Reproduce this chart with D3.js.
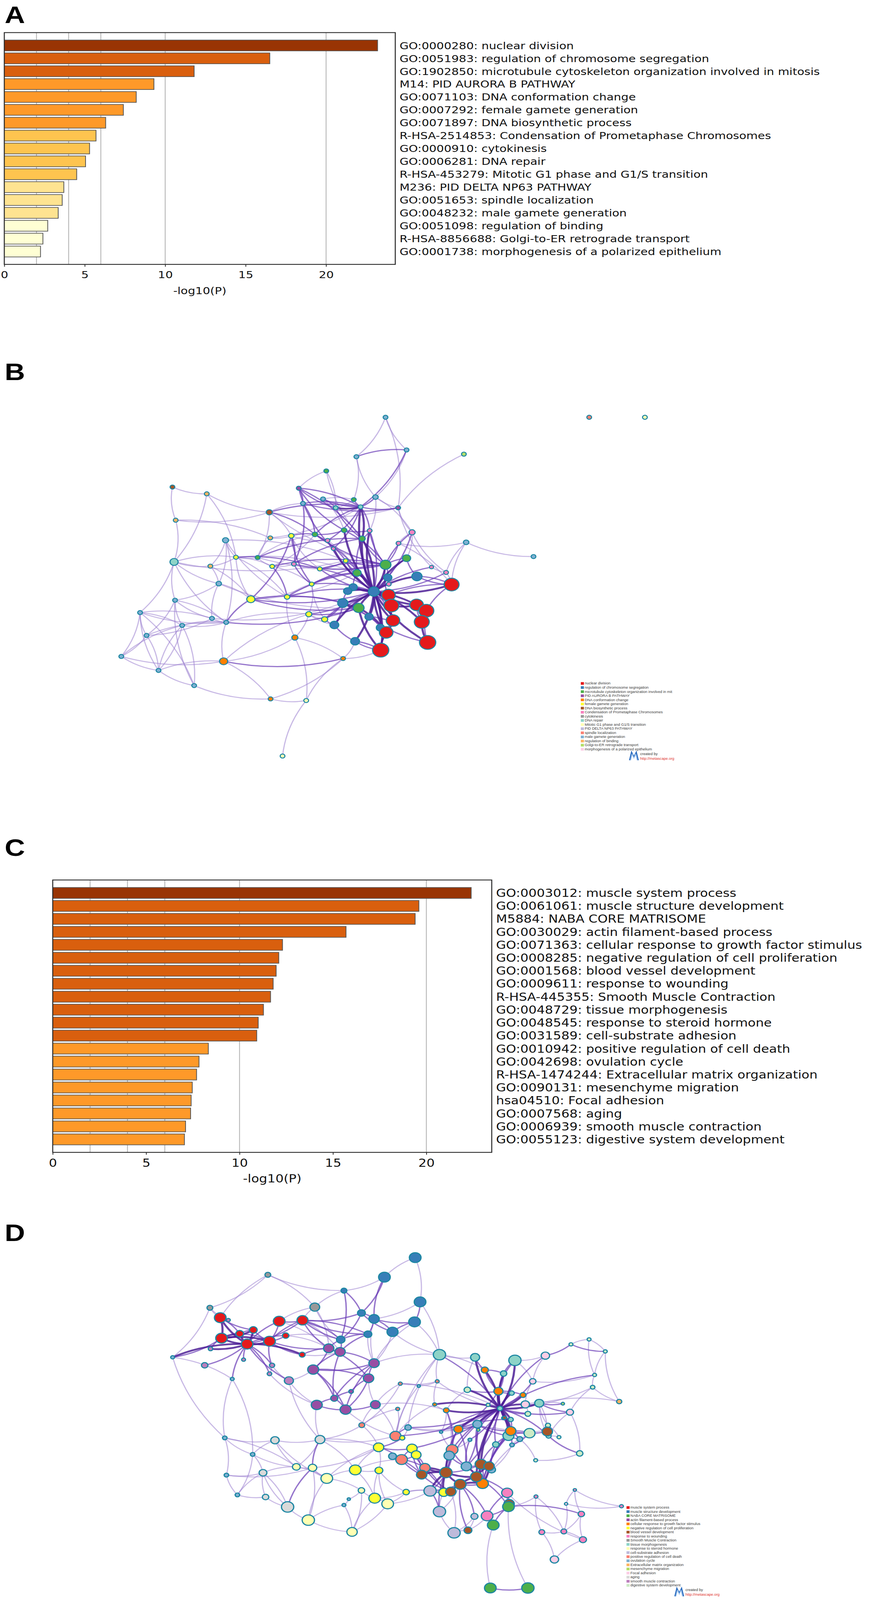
<!doctype html>
<html>
<head>
<meta charset="utf-8">
<script src="https://cdn.jsdelivr.net/npm/d3@7"></script>
<title>Enrichment bars and networks</title>
<style>
  html, body { margin: 0; background: #fff; overflow: hidden; }
  svg { display: block; }
</style>
</head>
<body>
<svg id="fig"></svg>
<script>
// ---------- panel A: bar chart ----------
const termsA = [
  "GO:0000280: nuclear division",
  "GO:0051983: regulation of chromosome segregation",
  "GO:1902850: microtubule cytoskeleton organization involved in mitosis",
  "M14: PID AURORA B PATHWAY",
  "GO:0071103: DNA conformation change",
  "GO:0007292: female gamete generation",
  "GO:0071897: DNA biosynthetic process",
  "R-HSA-2514853: Condensation of Prometaphase Chromosomes",
  "GO:0000910: cytokinesis",
  "GO:0006281: DNA repair",
  "R-HSA-453279: Mitotic G1 phase and G1/S transition",
  "M236: PID DELTA NP63 PATHWAY",
  "GO:0051653: spindle localization",
  "GO:0048232: male gamete generation",
  "GO:0051098: regulation of binding",
  "R-HSA-8856688: Golgi-to-ER retrograde transport",
  "GO:0001738: morphogenesis of a polarized epithelium"
];
const valuesA = [23.2, 16.5, 11.8, 9.3, 8.2, 7.4, 6.3, 5.7, 5.3, 5.05, 4.5, 3.7, 3.6, 3.35, 2.7, 2.4, 2.25];

// ---------- panel C: bar chart ----------
const termsC = [
  "GO:0003012: muscle system process",
  "GO:0061061: muscle structure development",
  "M5884: NABA CORE MATRISOME",
  "GO:0030029: actin filament-based process",
  "GO:0071363: cellular response to growth factor stimulus",
  "GO:0008285: negative regulation of cell proliferation",
  "GO:0001568: blood vessel development",
  "GO:0009611: response to wounding",
  "R-HSA-445355: Smooth Muscle Contraction",
  "GO:0048729: tissue morphogenesis",
  "GO:0048545: response to steroid hormone",
  "GO:0031589: cell-substrate adhesion",
  "GO:0010942: positive regulation of cell death",
  "GO:0042698: ovulation cycle",
  "R-HSA-1474244: Extracellular matrix organization",
  "GO:0090131: mesenchyme migration",
  "hsa04510: Focal adhesion",
  "GO:0007568: aging",
  "GO:0006939: smooth muscle contraction",
  "GO:0055123: digestive system development"
];
const valuesC = [22.4, 19.6, 19.4, 15.7, 12.3, 12.1, 11.96, 11.8, 11.66, 11.28, 11.0, 10.92, 8.33, 7.83, 7.7, 7.47, 7.41, 7.38, 7.11, 7.05];

const tickValues = [0, 5, 10, 15, 20];
const gridValues = [2, 4, 6, 10, 20];
const colorCuts = [3, 4, 6, 10, 20];

// ---------- legends ----------
const legendB = [
  "nuclear division", "regulation of chromosome segregation",
  "microtubule cytoskeleton organization involved in mit", "PID AURORA B PATHWAY",
  "DNA conformation change", "female gamete generation", "DNA biosynthetic process",
  "Condensation of Prometaphase Chromosomes", "cytokinesis", "DNA repair",
  "Mitotic G1 phase and G1/S transition", "PID DELTA NP63 PATHWAY", "spindle localization",
  "male gamete generation", "regulation of binding", "Golgi-to-ER retrograde transport",
  "morphogenesis of a polarized epithelium"
];
const legendD = [
  "muscle system process", "muscle structure development", "NABA CORE MATRISOME",
  "actin filament-based process", "cellular response to growth factor stimulus",
  "negative regulation of cell proliferation", "blood vessel development", "response to wounding",
  "Smooth Muscle Contraction", "tissue morphogenesis", "response to steroid hormone",
  "cell-substrate adhesion", "positive regulation of cell death", "ovulation cycle",
  "Extracellular matrix organization", "mesenchyme migration", "Focal adhesion", "aging",
  "smooth muscle contraction", "digestive system development"
];

// ---------- panel B network: [id, x, y, r, cluster] in layout units ----------
const nodesB = [
  [1,889,78,7,13],[2,1518,78,7,12],[3,1690,78,7,10],[4,954,218,7,13],[5,799,247,7,13],
  [6,1131,236,7,15],[7,706,308,7,2],[8,231,377,7,6],[9,337,406,7,14],[10,621,382,7,3],
  [11,696,428,7,13],[12,634,447,7,13],[13,791,431,7,2],[14,858,420,8,13],[15,735,466,7,9],
  [16,812,462,7,9],[17,928,466,7,3],[18,530,485,9,6],[19,241,519,7,14],[20,598,586,8,5],
  [21,533,595,7,14],[22,671,580,8,2],[23,761,562,8,2],[24,840,564,7,7],[25,710,606,7,7],
  [26,817,598,9,2],[27,728,641,6,7],[28,971,571,9,7],[29,929,618,7,7],[30,1138,614,8,13],
  [31,1346,675,7,13],[32,395,605,9,13],[33,236,698,12,9],[34,348,716,7,14],[35,427,678,7,5],
  [36,494,679,7,2],[37,539,717,7,5],[38,606,707,7,7],[39,686,728,7,5],[40,766,693,7,5],
  [41,889,710,16,2],[42,954,682,12,2],[43,801,745,12,2],[44,1031,720,6,7],[45,1076,743,7,7],
  [46,986,760,15,1],[47,896,765,12,1],[48,899,793,7,7],[49,1093,795,22,0],[50,374,791,8,13],
  [51,661,793,7,5],[52,789,806,12,1],[53,772,823,12,1],[54,853,825,16,1],[55,898,840,20,0],
  [56,473,858,12,5],[57,585,848,8,5],[58,757,874,15,1],[59,806,895,16,2],[60,907,885,22,0],
  [61,985,882,20,0],[62,1015,907,22,0],[63,131,915,7,13],[64,239,862,7,13],[65,353,940,7,13],
  [66,397,957,7,13],[67,261,970,7,13],[68,652,922,9,5],[69,701,944,9,5],[70,838,933,12,1],
  [71,912,949,20,0],[72,1001,955,22,0],[73,731,968,13,1],[74,873,980,12,1],[75,891,1000,20,0],
  [76,151,1013,7,13],[77,609,1022,9,4],[78,795,1038,13,1],[79,1019,1043,24,0],[80,874,1076,24,0],
  [81,73,1103,7,13],[82,389,1124,12,4],[83,758,1112,7,4],[84,188,1163,7,13],[85,298,1228,7,13],
  [86,534,1285,7,4],[87,644,1292,7,10],[88,571,1530,7,10]
];
// [source, target, strength 1..3]
const edgesB = [
  [1,4,1],[1,5,1],[4,5,2],[1,17,1],[5,14,1],[4,14,1],[5,13,1],[6,17,1],[7,10,1],[7,15,1],[7,26,1],[4,16,2],
  [10,12,2],[10,15,2],[10,16,2],[10,23,2],[10,26,2],[11,15,2],[11,16,2],[12,16,2],[12,22,2],[13,16,2],
  [13,15,1],[14,16,2],[15,16,3],[16,17,2],[14,17,1],[12,17,2],[11,13,1],[10,27,2],[12,38,2],[15,26,2],
  [16,26,3],[16,24,2],[18,16,2],[18,12,1],[18,17,1],[17,28,1],[17,44,1],[14,28,1],
  [8,19,1],[8,9,1],[9,18,1],[9,33,1],[19,18,1],[19,33,1],[19,21,1],[21,16,1],[18,20,1],[20,25,1],
  [20,38,2],[20,39,1],[20,51,2],[20,56,2],[32,35,1],[32,66,1],[32,40,1],[33,64,1],[33,63,1],[33,50,1],
  [33,35,1],[34,35,1],[34,56,1],[35,56,1],[35,39,2],[35,43,1],[35,57,1],[35,36,1],[36,41,1],[37,41,2],
  [37,22,1],[37,57,2],[38,41,2],[39,54,2],[40,54,2],[40,41,2],[22,41,2],[22,54,2],[23,54,3],[24,54,2],
  [25,54,2],[26,54,3],[27,54,3],[26,41,2],[28,45,1],[28,54,2],[28,42,1],[28,29,1],[29,30,1],[30,31,1],
  [30,45,1],[30,49,1],[29,49,1],[21,36,1],[21,20,1],[18,36,1],[18,22,2],[36,22,1],[36,26,2],[38,26,2],
  [22,23,2],[22,16,2],[25,16,2],[27,16,2],[23,24,2],[24,26,2],[20,22,2],[39,41,2],[51,41,2],[51,43,2],
  [57,43,2],[56,43,1],[37,51,1],[38,51,2],[32,57,1],[33,40,1],[9,35,1],[18,41,1],[11,23,1],[14,24,1],
  [54,41,3],[54,42,3],[54,43,3],[54,46,3],[54,47,3],[54,48,2],[54,49,3],[54,52,3],[54,53,3],[54,55,3],
  [54,58,3],[54,59,3],[54,60,3],[54,61,3],[54,62,3],[54,70,3],[54,71,3],[54,72,3],[54,73,3],[54,74,3],
  [54,75,3],[54,78,3],[54,79,3],[54,80,3],[54,51,2],[54,56,2],[54,57,2],[54,68,2],[54,69,2],[54,44,2],
  [54,45,2],[54,26,3],[54,16,3],[54,24,3],[54,40,2],[54,39,2],
  [55,60,3],[60,61,3],[61,62,3],[62,72,3],[72,79,3],[71,75,3],[55,49,2],[60,71,3],[61,72,2],[62,79,2],
  [75,80,3],[71,80,2],[49,62,2],[49,46,2],[46,42,2],[42,41,2],[44,45,1],[45,49,1],[59,80,3],[59,75,3],
  [58,71,2],[70,79,2],[52,60,2],[41,60,2],[43,71,2],
  [63,67,1],[63,76,1],[63,84,1],[63,81,1],[63,65,1],[64,67,1],[64,65,1],[64,76,1],[65,66,1],[66,67,1],
  [67,84,1],[67,85,1],[76,84,1],[76,66,1],[81,84,1],[81,82,1],[81,76,1],[84,82,1],[84,85,1],[85,86,1],
  [82,86,1],[82,83,2],[82,77,1],[82,66,1],[66,59,2],[66,56,2],[65,58,1],[77,83,1],[77,87,1],[77,57,1],
  [86,87,1],[86,83,1],[87,88,1],[87,83,1],[83,80,1],[80,78,2],[73,58,2],[73,69,2],[68,69,1],[68,59,2],
  [69,58,2],[56,58,2],[56,59,2],[57,59,2],[50,56,1],[50,59,1],[64,66,1],[33,66,1],[63,66,1],[76,65,1],
  [84,67,1],[81,67,1],[63,85,1],[64,85,1],
  [32,34,1],[32,50,1],[33,34,1],[34,50,1],[50,64,1],[50,65,1],[35,37,1],[36,37,1],[37,38,1],[38,39,1],
  [39,40,2],[40,43,2],[43,52,2],[52,53,2],[53,58,2],[58,59,3],[59,70,2],[70,74,2],[74,75,2],[73,78,2],
  [78,80,2],[47,48,2],[41,47,2],[42,47,2],[46,49,2],[28,41,2],[29,41,2],[24,41,2],[23,41,2],[26,43,2],
  [22,40,2],[25,43,1],[57,51,1],[56,51,1],[68,51,1],[69,51,1],[68,73,1],[77,68,1],[83,78,1],[82,68,1],
  [66,68,1],[67,66,1]
];

// ---------- panel D network ----------
const nodesD = [
  [1,860,115,18,1],[2,765,198,18,1],[3,875,303,18,1],[4,640,255,9,1],[5,858,388,18,1],
  [6,790,430,17,1],[7,733,375,16,1],[8,694,350,12,1],[9,714,440,12,1],[10,630,463,13,1],
  [11,405,188,9,8],[12,226,328,9,8],[13,550,325,15,8],[14,258,370,18,0],[15,440,385,18,0],
  [16,512,381,17,0],[17,360,422,12,0],[18,318,438,12,0],[19,460,446,10,0],[20,262,457,18,0],
  [21,341,482,18,0],[22,410,470,18,0],[23,511,527,9,0],[24,283,380,6,18],[25,228,502,7,18],
  [26,111,538,6,13],[27,210,572,10,18],[28,330,548,6,18],[29,418,572,8,18],[30,295,630,6,13],
  [31,410,608,7,18],[32,470,637,14,18],[33,593,500,16,3],[34,628,515,16,3],[35,545,590,17,3],
  [36,733,563,16,3],[37,716,627,16,3],[38,662,683,7,3],[39,610,712,11,3],[40,556,740,17,3],
  [41,645,760,17,3],[42,737,739,15,3],[43,935,527,19,9],[44,1045,538,14,9],[45,1168,551,19,9],
  [46,1133,607,10,9],[47,1243,733,14,9],[48,1148,871,17,9],[49,1109,908,10,9],[50,1158,690,8,9],
  [51,1122,755,8,9],[52,1155,802,8,9],[53,1075,592,11,4],[54,1117,682,14,4],[55,1193,698,9,4],
  [56,956,763,9,4],[57,993,843,14,4],[58,1155,851,16,4],[59,1068,1074,18,4],[60,1133,796,6,4],
  [61,920,738,6,4],[62,1262,531,13,16],[63,1223,640,10,16],[64,1200,738,13,16],[65,1338,771,11,16],
  [66,1290,1396,13,16],[67,1021,676,10,19],[68,1213,860,17,19],[69,1208,778,9,19],[70,1368,946,10,19],
  [71,1397,462,6,19],[72,1341,483,6,19],[73,1447,513,6,19],[74,1414,613,6,19],[75,1408,665,7,19],
  [76,1490,726,8,14],[77,1270,827,8,19],[78,1316,735,5,15],[79,1304,877,6,19],[80,1232,975,6,19],
  [81,1085,740,6,19],[83,1055,846,5,15],[84,1029,888,6,13],[85,940,855,5,13],[86,1159,910,7,13],
  [87,1183,885,9,13],[88,1272,872,8,9],[89,1052,822,14,13],[90,1136,795,6,6],[91,814,650,6,12],
  [92,928,640,6,12],[93,871,660,5,13],[94,806,757,6,12],[95,695,826,9,12],[96,799,872,17,12],
  [97,818,972,18,12],[98,974,930,18,12],[99,890,1007,16,12],[100,838,836,10,13],[101,790,958,12,13],
  [102,965,955,16,13],[103,1018,1001,16,13],[104,1096,1015,12,13],[105,747,920,16,5],[106,850,925,16,5],
  [107,863,952,15,5],[108,820,880,8,5],[109,675,1016,18,5],[110,748,1018,12,5],[111,832,1110,10,5],
  [112,735,1136,18,5],[113,948,1111,15,5],[114,1063,992,18,6],[115,1088,1000,16,6],[116,955,1027,19,6],
  [117,880,1036,16,6],[118,1049,1045,18,6],[119,999,1077,18,6],[120,970,1108,16,6],[121,1023,1272,12,6],
  [122,1268,853,16,6],[123,493,1003,12,10],[124,543,1007,13,10],[125,587,1052,18,10],[126,775,1160,18,10],
  [127,530,1229,19,10],[128,665,1279,16,10],[129,694,1103,10,10],[130,427,890,13,17],[131,566,887,15,17],
  [132,390,1028,12,17],[133,398,1131,10,17],[134,466,1173,19,17],[135,272,880,7,13],[136,358,950,7,13],
  [137,277,1038,7,13],[138,311,1122,7,13],[139,640,1165,6,13],[140,655,1140,5,13],[141,906,1105,19,11],
  [142,935,1193,19,11],[143,980,1283,19,11],[144,1043,1213,11,11],[145,1144,1113,17,7],[146,1082,1211,18,7],
  [147,1233,1129,6,7],[148,1251,1280,9,7],[149,1319,1277,9,7],[150,1373,1203,10,7],[151,1378,1312,11,7],
  [152,1353,1101,5,7],[153,1326,1160,5,16],[154,1497,1170,6,7],[159,1150,1160,16,6],[155,1148,1172,18,2],
  [156,1101,1250,18,2],[157,1092,1517,18,2],[158,1208,1517,19,2]
];
const edgesD = [
  [14,21,3],[14,20,3],[14,24,2],[17,21,3],[18,21,3],[20,21,3],[21,22,3],[22,19,2],[22,15,2],[22,16,2],
  [15,16,2],[21,25,3],[21,26,3],[21,27,2],[21,28,2],[21,29,2],[21,30,2],[21,31,2],[20,26,2],[20,25,2],
  [17,18,2],[14,18,2],[22,29,2],[22,23,2],[23,33,2],[21,23,3],[21,32,2],[29,31,1],[14,12,1],[12,11,1],
  [11,13,1],[11,4,1],[13,16,1],[16,9,2],[16,10,2],[15,13,1],[24,12,1],[26,30,1],[30,135,1],[26,135,1],
  [30,136,1],[20,17,3],[20,18,3],[14,17,2],[21,15,2],[21,16,2],[20,22,3],[18,22,2],[17,22,2],[21,19,2],
  [1,3,1],[1,2,1],[2,4,1],[2,7,2],[2,8,2],[3,5,2],[3,7,1],[5,6,2],[5,7,2],[6,7,2],[6,8,2],[7,8,2],
  [7,9,2],[8,10,2],[9,10,2],[4,8,2],[4,10,2],[10,33,2],[10,34,2],[4,13,1],[6,43,1],[5,43,1],[3,43,1],
  [9,16,2],[8,16,2],[10,16,2],[10,19,1],
  [33,34,2],[33,35,2],[34,35,2],[34,36,2],[35,36,2],[36,37,2],[35,37,2],[37,38,2],[38,39,2],[39,40,2],
  [39,41,2],[40,41,2],[41,42,2],[37,41,2],[36,41,2],[35,39,2],[40,32,1],[40,131,1],[42,96,1],[41,96,1],
  [42,95,1],[37,42,1],[32,35,1],[32,131,1],[13,33,1],[33,37,2],[34,39,2],[35,41,2],[36,39,2],
  [51,114,3],[51,118,3],[51,103,2],[51,98,2],[57,116,2],[57,98,2],[89,114,2],[89,116,2],
  [145,155,2],[145,146,2],[146,155,2],[146,156,2],[155,156,2],[155,118,2],[145,118,2],[146,119,2],
  [144,119,2],[143,144,1],[142,141,2],[141,116,2],[142,116,2],[143,120,1],[121,119,2],[121,146,1],
  [156,157,1],[155,158,1],[157,158,2],[147,148,1],[147,149,1],[148,149,1],[149,150,1],[149,151,1],
  [150,151,1],[150,152,1],[152,153,1],[153,149,1],[151,66,1],[148,66,1],[147,155,1],[150,155,2],
  [151,145,1],[153,154,1],[154,152,1],[70,80,1],[70,65,1],[70,88,2],[80,87,1],[159,145,2],
  [71,72,1],[71,73,1],[71,74,1],[72,73,2],[72,62,2],[73,74,1],[74,75,1],[75,76,1],[73,76,1],[62,63,1],
  [63,74,1],[65,75,1],[65,47,2],[64,78,1],[47,78,2],[77,47,1],[77,79,1],[79,88,1],[88,122,2],[122,47,1],
  [68,122,1],[68,86,2],[87,86,1],[48,87,2],[48,68,2],[48,49,2],[52,57,2],[52,58,2],[58,68,2],[58,57,1],
  [43,44,1],[43,53,1],[43,92,1],[43,96,1],[45,62,1],[45,63,1],[44,53,2],[53,54,2],[46,54,2],[45,54,2],
  [54,51,3],[50,51,3],[55,51,3],[47,51,3],[56,51,3],[61,51,3],[64,51,3],[67,51,3],[69,51,2],[81,51,2],
  [60,51,3],[57,51,3],[52,51,3],[89,51,3],[86,51,2],[87,51,2],[58,51,3],[48,51,3],[49,51,2],[62,51,2],
  [63,51,2],[65,51,2],[74,51,2],[88,51,2],[84,51,2],[83,51,2],[85,51,2],[44,51,3],[45,51,3],[46,51,3],
  [53,51,3],[90,51,2],[85,56,1],[61,56,1],[91,93,1],[91,92,1],[93,92,1],[92,61,1],[91,95,1],[93,96,1],
  [94,96,1],[94,95,1],[96,100,2],[100,108,1],[96,108,2],[100,57,1],[100,89,1],[91,42,1],
  [135,130,1],[135,136,1],[135,137,1],[135,123,1],[136,130,1],[136,132,1],[136,138,1],[136,123,1],
  [137,132,1],[137,138,1],[138,133,1],[138,132,1],[137,124,1],[132,133,1],[130,123,1],[131,124,2],
  [131,123,1],[123,124,1],[123,125,1],[124,125,1],[125,109,1],[125,129,1],[134,127,1],[134,132,1],
  [134,124,2],[127,139,1],[127,128,1],[128,139,1],[128,112,1],[139,140,1],[140,129,1],[129,112,1],
  [112,126,1],[112,111,1],[126,141,1],[126,111,1],[109,110,1],[109,105,1],[110,111,1],[110,105,1],
  [105,106,2],[105,108,2],[106,107,2],[106,97,2],[107,97,2],[105,97,2],[97,101,2],[101,117,2],[117,99,2],
  [99,116,3],[98,102,2],[102,116,2],[102,103,2],[103,114,2],[114,115,3],[115,118,3],[118,116,3],
  [116,119,3],[119,120,3],[120,113,2],[113,141,2],[59,118,3],[59,119,2],[59,114,2],[104,114,2],
  [104,115,2],[117,120,2],[99,120,2],[98,116,2],[98,103,2],[97,99,2],[125,105,1],[124,105,1],[109,97,1],
  [131,96,1],[111,113,1],[111,141,1],[112,110,1],[43,100,1],[43,36,1],[42,56,1],[95,131,1],[95,105,1],
  [116,141,3],[116,113,3],[116,99,3],[116,117,3],[118,119,3],[118,103,3],[118,59,3],[116,98,3],[119,113,2],
  [43,51,2],[92,51,1],[91,51,1],[96,51,2],[100,51,2],[106,51,2],[57,54,2],[67,54,2],[89,57,2],[89,58,2],
  [89,48,2],[89,103,2],[57,103,2],[57,102,2],[56,102,1],[56,98,2],[61,96,1],[85,98,1],[84,103,2],
  [84,98,1],[83,114,2],[49,114,2],[49,104,2],[86,104,1],[48,115,2],[58,115,2],[58,59,2],[48,59,2],
  [122,58,2],[68,59,1],[87,58,1],[55,54,2],[50,54,2],[46,53,2],[45,46,2],[44,67,1],[67,56,1],[64,47,2],
  [63,64,1],[69,64,1],[75,51,1],[76,47,1],[47,88,1],[65,88,1],
  [114,118,3],[115,59,3],[114,116,2],[117,97,2],[107,117,2],[106,117,2],[106,99,2],[107,99,2],
  [99,113,2],[113,119,2],[120,141,2],[119,59,3],[142,143,1],[143,121,1],[121,144,1],[142,119,1],
  [113,142,1],[130,131,1],[131,105,1],[131,109,1],[130,125,1],[123,132,1],[132,134,1],[133,134,1],
  [127,125,1],[127,124,1],[126,128,1],[126,110,1],[112,109,1],[128,129,1],[19,33,1],[22,33,2],
  [15,33,1],[16,33,2],[16,34,1],[23,34,1],[29,32,1],[31,40,1],[9,34,2],[9,36,1],[6,36,1],[5,36,1],
  [7,36,1],[13,10,1],[12,26,1],[11,14,1]
];

// ---------- drawing ----------
// The figure is laid out on a 2230 x 4811 canvas; the view box maps it onto the window.
const W = 2230, H = 4811;
const svg = d3.select("#fig")
  .attr("viewBox", `0 0 ${W} ${H}`)
  .attr("preserveAspectRatio", "none")
  .attr("width", window.innerWidth || W)
  .attr("height", Math.min(window.innerHeight || H, H));

const palette = d3.schemeSet1.concat(d3.schemeSet3);
const barColor = d3.scaleThreshold().domain(colorCuts).range(d3.schemeYlOrBr[6]);

function panelLetter(letter, baseline) {
  svg.append("text")
    .attr("x", 12).attr("y", baseline)
    .attr("font-family", "Liberation Sans, Arial, sans-serif")
    .attr("font-weight", "bold")
    .attr("font-size", 72)
    .text(letter);
}

function drawBars(terms, values, box, xmax, fontSize) {
  const x = d3.scaleLinear().domain([0, xmax]).range([box.left, box.right]);
  const y = d3.scaleBand().domain(terms)
    .range([box.top, box.bottom])
    .paddingInner(0.16).paddingOuter(0.58);
  const g = svg.append("g");

  g.selectAll("line.grid").data(gridValues).join("line")
    .attr("class", "grid")
    .attr("x1", d => x(d)).attr("x2", d => x(d))
    .attr("y1", box.top).attr("y2", box.bottom)
    .attr("stroke", "#b5b5b5").attr("stroke-width", 2.2);

  g.selectAll("rect.bar").data(values).join("rect")
    .attr("class", "bar")
    .attr("x", x(0))
    .attr("y", (d, i) => y(terms[i]))
    .attr("width", d => x(d) - x(0))
    .attr("height", y.bandwidth())
    .attr("fill", d => barColor(d))
    .attr("stroke", "#555").attr("stroke-width", 2);

  g.append("rect")
    .attr("x", box.left).attr("y", box.top)
    .attr("width", box.right - box.left).attr("height", box.bottom - box.top)
    .attr("fill", "none").attr("stroke", "#2b2b2b").attr("stroke-width", 2.6);

  const ax = g.append("g")
    .attr("transform", `translate(0,${box.bottom})`)
    .call(d3.axisBottom(x).tickValues(tickValues).tickSize(7).tickPadding(13));
  ax.select(".domain").remove();
  ax.selectAll(".tick line").attr("stroke", "#2b2b2b").attr("stroke-width", 2);
  ax.selectAll(".tick text")
    .attr("font-family", "DejaVu Sans, sans-serif")
    .attr("font-size", fontSize).attr("fill", "#111");

  g.append("text")
    .attr("x", (box.left + box.right) / 2).attr("y", box.bottom + 90)
    .attr("text-anchor", "middle")
    .attr("font-family", "DejaVu Sans, sans-serif")
    .attr("font-size", fontSize).attr("fill", "#111")
    .text("-log10(P)");

  g.selectAll("text.term").data(terms).join("text")
    .attr("class", "term")
    .attr("x", box.right + 11)
    .attr("y", d => y(d) + y.bandwidth() / 2)
    .attr("dy", "0.36em")
    .attr("font-family", "DejaVu Sans, sans-serif")
    .attr("font-size", fontSize).attr("fill", "#111")
    .text(d => d);
}

const edgeStyle = {
  1: { color: "#9a80d0", opacity: 0.55, width: 3 },
  2: { color: "#6a3cb6", opacity: 0.7, width: 3.6 },
  3: { color: "#4e2096", opacity: 0.85, width: 5.4 }
};

function drawNetwork(nodes, edges, xs, ys, rk, strokeW) {
  const byId = new Map(nodes.map(n => [n[0], n]));
  const g = svg.append("g");
  const list = edges.filter(e => byId.has(e[0]) && byId.has(e[1]))
    .sort((a, b) => a[2] - b[2]);

  g.selectAll("path.edge").data(list).join("path")
    .attr("class", "edge")
    .attr("d", e => {
      const a = byId.get(e[0]), b = byId.get(e[1]);
      const x1 = xs(a[1]), y1 = ys(a[2]), x2 = xs(b[1]), y2 = ys(b[2]);
      const k = ((e[0] + e[1]) % 2 ? 1 : -1) * 0.13;
      const cx = (x1 + x2) / 2 - (y2 - y1) * k, cy = (y1 + y2) / 2 + (x2 - x1) * k;
      return `M${x1},${y1}Q${cx},${cy} ${x2},${y2}`;
    })
    .attr("fill", "none")
    .attr("stroke", e => edgeStyle[e[2]].color)
    .attr("stroke-opacity", e => edgeStyle[e[2]].opacity)
    .attr("stroke-width", e => edgeStyle[e[2]].width);

  const r0 = xs(0);
  g.selectAll("circle").data(nodes).join("circle")
    .attr("cx", n => xs(n[1])).attr("cy", n => ys(n[2]))
    .attr("r", n => (xs(n[3]) - r0) * rk)
    .attr("fill", n => palette[n[4]])
    .attr("stroke", "#1d87a3").attr("stroke-width", strokeW);
}

function drawLegend(items, x0, yRange) {
  const y = d3.scalePoint().domain(items).range(yRange);
  const g = svg.append("g");
  g.selectAll("rect").data(items).join("rect")
    .attr("x", x0).attr("y", d => y(d) - 4)
    .attr("width", 8).attr("height", 8)
    .attr("fill", (d, i) => palette[i]);
  g.selectAll("text").data(items).join("text")
    .attr("x", x0 + 10).attr("y", d => y(d))
    .attr("dy", "0.35em")
    .attr("font-family", "Liberation Sans, Arial, sans-serif")
    .attr("font-size", 9.6).attr("fill", "#3a3a3a")
    .text(d => d);
  return y;
}

function metascapeMark(x, y) {
  const g = svg.append("g").attr("transform", `translate(${x},${y})`);
  g.append("path").attr("d", "M0,24 L5,0 L11,14 L17,0 L22,24")
    .attr("fill", "none").attr("stroke", "#2d6fc2").attr("stroke-width", 3.2);
  g.append("path").attr("d", "M3,24 L7,6 L11,18 L15,6 L19,24")
    .attr("fill", "none").attr("stroke", "#9dc3ee").attr("stroke-width", 1.6);
  g.append("text").attr("x", 27).attr("y", 8)
    .attr("font-family", "Liberation Sans, Arial, sans-serif")
    .attr("font-size", 9.6).attr("fill", "#333").text("created by");
  g.append("text").attr("x", 27).attr("y", 22)
    .attr("font-family", "Liberation Sans, Arial, sans-serif")
    .attr("font-size", 9.6).attr("fill", "#e0302a").text("http://metascape.org");
}

// panel A
panelLetter("A", 69);
drawBars(termsA, valuesA, { left: 11, right: 1012, top: 98, bottom: 795 }, 24.3, 30);

// panel B
panelLetter("B", 1143);
drawNetwork(nodesB, edgesB,
  d3.scaleLinear().domain([0, 1568]).range([250, 1550]),
  d3.scaleLinear().domain([0, 1568]).range([1200, 2300]),
  1.05, 2.8);
drawLegend(legendB, 1487, [2055, 2253]);
metascapeMark(1612, 2262);

// panel C
panelLetter("C", 2573);
drawBars(termsC, valuesC, { left: 135, right: 1259, top: 2646, bottom: 3465 }, 23.5, 33);

// panel D
panelLetter("D", 3732);
drawNetwork(nodesD, edgesD,
  d3.scaleLinear().domain([0, 1568]).range([350, 1650]),
  d3.scaleLinear().domain([0, 1568]).range([3700, 4811]),
  1.0, 3.2);
drawLegend(legendD, 1604, [4533, 4767]);
metascapeMark(1728, 4776);
</script>
</body>
</html>
